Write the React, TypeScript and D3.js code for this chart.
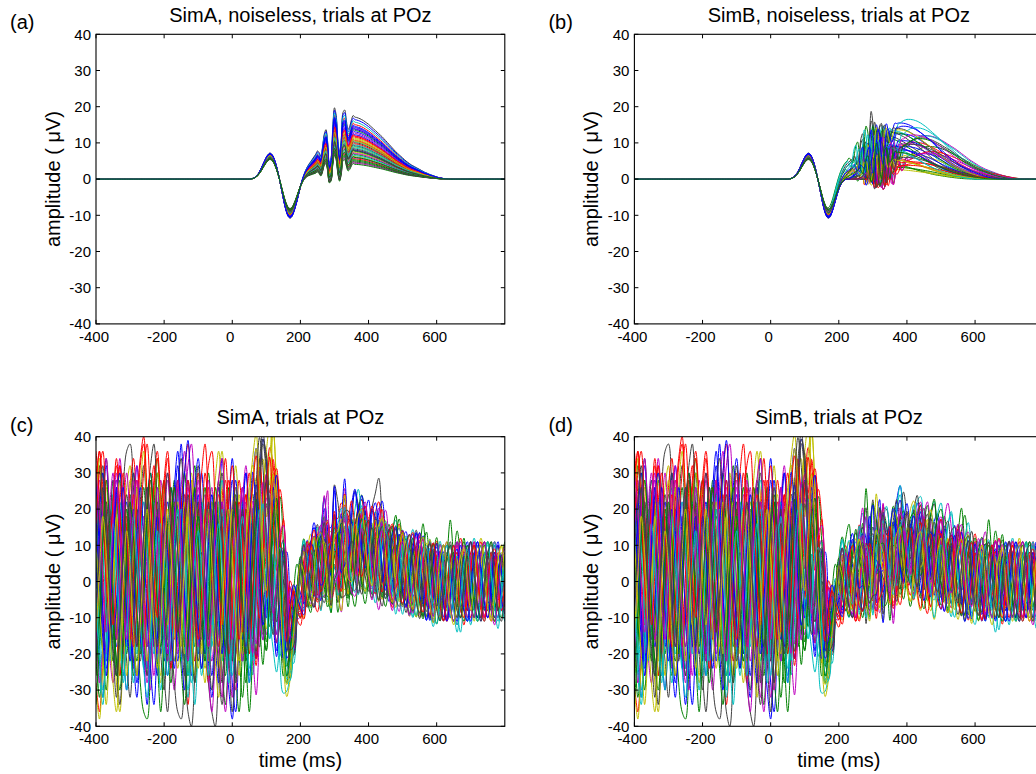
import React, { useEffect } from 'react';
import * as d3 from 'd3';

// ---------------- data ----------------
const timeStart = -400;
const timeEnd = 800;
const sampleStep = 5; // ms

const xTicks = [-400, -200, 0, 200, 400, 600];
const yTicks = [-40, -30, -20, -10, 0, 10, 20, 30, 40];

const panelTitles = [
  'SimA, noiseless, trials at POz',
  'SimB, noiseless, trials at POz',
  'SimA, trials at POz',
  'SimB, trials at POz',
];
const panelLetters = ['(a)', '(b)', '(c)', '(d)'];
const yAxisLabel = 'amplitude ( \u03bcV)';
const xAxisLabel = 'time (ms)';

// early P1/N1 complex (uV), 5 ms steps starting at 50 ms
const earlyWaveStart = 50;
const earlyWave = [
  0, 0.05, 0.2, 0.4, 0.8, 1.3, 2.1, 3.0, 4.1, 5.1,
  6.1, 6.8, 7.2, 7.0, 6.3, 5.1, 3.5, 1.5, -0.7, -3.1,
  -5.5, -7.7, -9.4, -10.5, -10.8, -10.4, -9.3, -7.8, -6.1, -4.4,
  -2.9, -1.7, -0.9, -0.4, -0.1, 0,
];

// late broad component (normalised), 5 ms steps starting at 190 ms
const p3WaveStart = 190;
const p3Wave = [
  0, 0.02, 0.05, 0.08, 0.12, 0.16, 0.2, 0.24, 0.28, 0.32,
  0.36, 0.4, 0.43, 0.47, 0.5, 0.54, 0.57, 0.6, 0.64, 0.67,
  0.71, 0.74, 0.78, 0.81, 0.85, 0.88, 0.91, 0.94, 0.96, 0.98,
  0.99, 1.0, 1.0, 1.0, 0.995, 0.99, 0.98, 0.97, 0.955, 0.94,
  0.92, 0.9, 0.88, 0.855, 0.83, 0.805, 0.78, 0.755, 0.73, 0.705,
  0.68, 0.65, 0.62, 0.59, 0.56, 0.53, 0.5, 0.47, 0.44, 0.415,
  0.39, 0.365, 0.34, 0.315, 0.29, 0.27, 0.25, 0.23, 0.215, 0.2,
  0.185, 0.17, 0.155, 0.14, 0.125, 0.11, 0.1, 0.087, 0.075, 0.065,
  0.055, 0.045, 0.035, 0.027, 0.02, 0.014, 0.01, 0.006, 0.004, 0.002,
  0,
];

// oscillatory burst (normalised), 5 ms steps starting at 245 ms
const burstWaveStart = 245;
const burstWave = [
  0, 0.05, -0.1, -0.3, -0.05, 0.35, 0.45, -0.1, -0.95, -0.85,
  0.2, 0.85, 0.5, -0.5, -1.05, -0.6, 0.3, 0.35, -0.1, -0.45,
  -0.35, -0.1, 0.05, 0,
];

// SimA trial parameters
const simAP3Amp = [
  12.3, 6.8, 15.1, 9.5, 4.4, 11.0, 17.2, 8.0, 13.5, 5.6,
  10.4, 14.0, 7.4, 9.2, 16.5, 4.1, 11.6, 8.6, 12.7, 6.2,
  10.1, 13.1, 5.0, 9.8, 15.8, 7.1, 11.3, 8.3, 14.6, 5.3,
  10.7, 6.5, 12.0, 8.9, 4.7, 13.8, 7.7, 11.9, 9.0, 5.9,
  10.5, 7.9, 14.3, 6.0,
];
const simABurstAmp = [
  6.1, 4.7, 6.8, 5.4, 4.0, 5.8, 7.4, 5.0, 6.4, 4.4,
  5.6, 6.5, 4.9, 5.3, 7.2, 4.0, 5.9, 5.2, 6.2, 4.6,
  5.5, 6.3, 4.3, 5.5, 7.0, 4.8, 5.8, 5.1, 6.7, 4.3,
  5.7, 4.6, 6.0, 5.2, 4.2, 6.5, 4.9, 6.0, 5.3, 4.5,
  5.7, 5.0, 6.6, 4.5,
];
const simAEarlyScale = [
  0.92, 0.85, 0.97, 0.88, 0.8, 0.95, 1.0, 0.83, 0.9, 0.78,
  0.93, 0.87, 0.96, 0.82, 0.99, 0.75, 0.91, 0.86, 0.94, 0.8,
  0.89, 0.98, 0.77, 0.9, 0.95, 0.84, 0.92, 0.81, 0.97, 0.79,
  0.88, 0.85, 0.93, 0.83, 0.76, 0.96, 0.87, 0.91, 0.86, 0.82,
  0.9, 0.84, 0.95, 0.8,
];

// SimB trial parameters (latency jitter in ms)
const simBP3Amp = [
  15.5, 9.0, 6.2, 16.5, 12.0, 3.5, 12.0, 12.5, 5.0, 10.2,
  13.4, 7.0, 2.6, 14.0, 9.0, 11.8, 4.4, 12.0, 8.6, 6.8,
  13.0, 10.6, 3.2, 7.6, 14.2, 9.8, 5.6, 11.4, 8.0, 12.8,
  4.8, 10.0, 7.2, 13.6, 6.0, 9.2, 11.2, 3.8, 8.8, 12.2,
  5.2, 9.6, 14.6, 7.4,
];
const simBP3Shift = [
  30, 115, -10, 55, 105, 0, -15, 35, -40, 70,
  5, 95, 15, 20, 45, -25, 80, 100, 10, 65,
  -5, 40, 25, 120, 75, 50, -5, 90, 35, 15,
  60, -30, 110, 25, 45, 0, 85, 55, -20, 70,
  10, 65, 40, 20,
];
const simBBurstAmp = [
  6.0, 4.5, 6.0, 5.5, 5.0, 4.0, 10.0, 6.5, 4.5, 6.0,
  6.0, 4.5, 3.5, 7.5, 6.0, 6.0, 4.0, 5.0, 7.0, 5.0,
  7.0, 7.0, 3.5, 4.0, 5.5, 7.5, 5.0, 5.5, 6.0, 7.0,
  4.5, 6.5, 4.5, 6.0, 6.0, 8.0, 5.5, 4.0, 6.0, 6.5,
  4.5, 6.5, 6.0, 5.5,
];
const simBBurstShift = [
  10, 45, -10, 20, 40, 0, -5, 15, -30, 30,
  0, 40, 10, 5, 25, -20, 30, 40, 5, 25,
  -5, 20, 15, 45, 30, 20, -10, 35, 15, 0,
  25, -25, 45, 10, 20, -5, 35, 20, -15, 30,
  5, 25, 15, 10,
];
const simBEarlyScale = [
  0.92, 0.85, 0.97, 0.88, 0.8, 0.95, 1.0, 0.83, 0.9, 0.78,
  0.93, 0.87, 0.96, 0.82, 0.99, 0.75, 0.91, 0.86, 0.94, 0.8,
  0.89, 0.98, 0.77, 0.9, 0.95, 0.84, 0.92, 0.81, 0.97, 0.79,
  0.88, 0.85, 0.93, 0.83, 0.76, 0.96, 0.87, 0.91, 0.86, 0.82,
  0.9, 0.85, 0.94, 0.8,
];

// ongoing EEG noise per trial (uV), 10 ms steps from -400 to 800 ms
const noiseTrials: number[][] = [
  [30, 12, -12, -22, 0, 24, 28, 6, -18, -30, -12, 14, 32, 20, -4, -24, -14, 10, 30, 22, -2, -26, -18, 6, 22, 38, 16, -14, -26, -6, 18, 30, 12, -12, -26, -12, 12, 34, 20, -6, -28, -36, -14, 14, 30, 18, -8, -22, 0, 22, 28, 10, -16, -24, -6, 14, 8, -10, -8, 2, -6, 3, 9, 1, -8, -3, 6, 11, 3, -6, -11, -3, 6, 9, 0, -8, -3, 7, 11, 2, -7, -10, 0, 8, 4, -6, -11, -3, 7, 10, 2, -8, -6, 4, 11, 3, -7, -12, -4, 6, 9, 0, -10, -4, 6, 10, 2, -8, -6, 3, 11, 4, -7, -11, -2, 7, 4, -6, -10, 0, 7],
  [-16, -32, -22, 2, 20, 10, -8, -26, -14, 8, 24, 14, -10, -28, -36, -38, -24, -4, 14, 6, -14, -6, 16, 28, 8, -10, -22, -4, 18, 32, 14, -8, -20, 0, 22, 16, -6, -24, -34, -16, 6, 22, 10, -8, -20, -2, 16, 24, 6, -16, -24, -8, 14, 18, 0, -16, -20, -8, 5, 10, 3, -6, -8, 3, 10, 4, -4, -10, -1, 8, 7, -3, -8, -1, 6, 11, 4, -6, -8, 0, 8, 6, -4, -10, -3, 7, 12, 3, -7, -4, 4, 10, 1, -8, -11, -1, 8, 13, 4, -6, -12, -6, 4, 8, 0, -7, -3, 6, 12, 3, -6, -10, -1, 7, 3, -4, -8, 1, 10, 4, -3],
  [22, 36, 26, 4, -14, -4, 16, 32, 20, -2, -16, -6, 12, 32, 38, 20, -4, -18, -8, 10, 28, 36, 22, 0, -12, 6, 24, 14, -8, -22, -10, 12, 30, 20, -2, -14, 4, 22, 34, 18, -4, -20, -8, 12, 24, 10, -10, -24, -12, 8, 20, 30, 26, 10, -8, 14, 2, -14, -10, 0, 7, 1, -7, -11, -3, 6, 10, 3, -6, -8, 0, 8, 12, 4, -6, -11, -4, 6, 8, 1, -7, -3, 7, 11, 3, -8, -12, -3, 6, 10, 3, -6, -10, -1, 7, 11, 4, -4, -11, -6, 4, 10, 6, -3, -8, -4, 6, 12, 7, -4, -10, -3, 7, 11, 1, -7, -11, -3, 8, 6, -4],
  [4, -16, -30, -16, 8, 24, 14, -4, -20, -8, 12, 26, 10, -10, -24, -12, 8, 22, 34, 18, -2, -16, -4, 16, 24, 6, -16, -30, -14, 8, 22, 10, -8, -22, -6, 16, 26, 12, -10, -24, -16, 6, 18, 8, -14, -26, -10, 10, 24, 8, -6, -16, 2, -10, -22, -26, -22, -14, -6, 2, 8, 3, -6, -10, -1, 7, 12, 16, 5, -4, -8, 0, 7, 3, -6, -10, -3, 6, 11, 4, -4, -8, -1, 6, 8, 1, -7, -11, -3, 7, 11, 3, -6, -12, -7, 3, 8, 1, -8, -13, -6, 4, 10, 3, -7, -11, -1, 8, 4, -6, -12, -4, 6, 10, 1, -7, -10, 0, 7, 3, -8],
  [12, 28, 18, -2, -20, -28, -10, 12, 26, 10, -8, -24, -14, 8, 18, 2, -16, -6, 12, 28, 18, -4, -20, -30, -14, 8, 16, 0, -18, -28, -8, 16, 24, 8, -12, -4, 10, 20, 6, -16, -32, -18, 2, 22, 32, 16, -8, -22, -10, 6, 16, 4, -16, -10, 8, 16, 2, -8, -2, 4, -3, -8, -1, 7, 11, 4, -4, -8, 3, 13, 8, -3, -10, -4, 6, 8, 0, -7, -4, 4, 10, 3, -6, -11, -4, 6, 10, 3, -7, -10, -1, 7, 12, 6, -4, -10, -3, 6, 8, 0, -8, -4, 6, 11, 3, -7, -12, -6, 4, 8, 1, -7, -3, 6, 11, 4, -6, -11, -4, 7, 4],
  [-26, -8, 16, 28, 12, -10, -24, -10, 12, 26, 32, 12, -8, -18, -2, 18, 28, 10, -12, -28, -18, 2, 20, 12, -8, -20, -8, 16, 30, 18, -2, -18, -28, -10, 12, 28, 36, 22, 2, -12, -6, 16, 24, 8, -10, -20, -6, 18, 28, 30, 12, 28, 36, 22, 2, -12, -10, 2, 8, -2, -8, -3, 6, 10, 1, -7, -11, -3, 7, 11, 3, -6, -8, 1, 8, 4, -4, -10, -3, 6, 8, 0, -7, -4, 4, 10, 3, -6, -12, -6, 3, 8, 1, -7, -4, 6, 11, 3, -7, -11, -3, 6, 10, 1, -6, -8, 0, 7, 4, -4, -8, -1, 7, 12, 6, -4, -10, -3, 6, 8, 0],
  [-10, 8, 24, 34, 18, -2, -16, 6, 26, 36, 38, 26, 4, -12, -22, -8, 12, 26, 12, -8, -26, -36, -20, 2, 18, 10, -10, -22, -8, 12, 22, 8, -12, -26, -14, 6, 20, 30, 14, -6, -20, -10, 10, 26, 16, -6, -18, -6, 18, 34, 24, 6, -14, -8, 12, 2, -12, -16, -8, 3, 6, -3, -10, -4, 4, 8, 1, -7, -11, -3, 7, 11, 4, -4, -8, 0, 8, 4, -6, -10, -3, 6, 11, 16, 6, -6, -10, -1, 7, 4, -4, -8, 0, 7, 11, 3, -6, -10, -1, 8, 6, -4, -11, -6, 3, 8, 3, -6, -8, 1, 7, 3, -6, -10, 0, 8, 11, 3, -7, -6, 3],
  [-6, -22, -32, -16, 8, 20, 6, -14, -26, -8, 16, 30, 18, -4, -20, -10, 8, 24, 14, -8, -22, -12, 10, 26, 36, 20, -2, -18, -8, 12, 24, 12, -8, -22, -32, -16, 8, 22, 10, -10, -20, -4, 14, 8, -12, -28, -10, 12, 28, 36, 28, 8, -12, -22, -8, 10, 16, 3, -10, -6, 4, 8, 1, -7, -10, 0, 8, 6, -4, -8, -1, 7, 11, 3, -6, -11, -4, 6, 10, 1, -6, -8, 0, 8, 6, -3, -10, -6, 4, 10, 4, -4, -8, -1, 7, 11, 3, -6, -10, -3, 6, 8, 0, -7, -3, 7, 11, 3, -7, -11, -4, 4, 10, 3, -6, -8, 1, 7, 3, -6, -1],
  [18, 32, 20, 0, -12, -2, 18, 28, 12, -8, -18, 0, 20, 10, -10, -26, -16, 6, 22, 12, -6, -20, -28, -10, 10, 22, 30, 12, -8, -18, -2, 16, 26, 10, -8, -18, -6, 12, 20, 6, -12, -26, -36, -18, 6, 18, 8, -12, -20, -2, 16, 8, -10, -20, -6, 12, 5, -8, -12, -2, 7, 11, 4, -4, -8, -1, 6, 8, 0, -8, -6, 4, 10, 3, -6, -10, -3, 7, 11, 4, -4, -10, -4, 4, 8, 1, -7, -4, 6, 12, 6, -4, -8, 0, 7, 4, -6, -11, -4, 6, 10, 4, -4, -10, -3, 6, 14, 7, -3, -8, -3, 6, 8, 0, -8, -4, 4, 10, 3, -7, -4],
  [-28, -36, -22, -2, 12, 6, -12, -26, -10, 10, 26, 34, 18, -4, -16, 2, 22, 32, 16, -4, -18, -6, 12, 26, 10, -10, -22, -34, -18, 2, 16, 6, -14, -28, -12, 10, 26, 16, -4, -20, -8, 12, 28, 18, -2, -16, -4, 16, 30, 20, 2, -12, -4, 18, 26, 22, 10, -4, -12, -5, -3, 6, 10, 3, -7, -11, -3, 7, 4, -6, -10, -1, 8, 11, 3, -7, -8, 1, 10, 6, -3, -8, -3, 6, 11, 4, -6, -10, -1, 7, 4, -6, -11, -3, 6, 10, 1, -7, -4, 6, 11, 3, -6, -8, 0, 7, 3, -7, -12, -4, 4, 8, 1, -6, -10, -3, 6, 11, 4, -4, -7],
  [8, -10, -24, -8, 12, 28, 18, -2, -18, -30, -14, 8, 18, 6, -12, -24, -6, 16, 26, 10, -10, -18, 0, 18, 28, 12, -8, -20, -28, -10, 10, 22, 12, -6, -18, -2, 18, 28, 18, -2, -16, -6, 12, 22, 8, -12, -26, -16, 6, 18, 8, -10, -20, -8, 10, 16, 5, -10, -14, -5, 6, 11, 3, -6, -8, 1, 8, 4, -6, -11, -4, 6, 10, 3, -7, -11, -3, 7, 11, 3, -7, -12, -6, 4, 10, 3, -6, -8, 1, 8, 4, -6, -12, -6, 3, 8, 3, -7, -10, 0, 8, 6, -4, -11, -6, 4, 8, 1, -7, -3, 7, 12, 6, -4, -11, -6, 3, 10, 3, -6, -11],
  [20, 6, -12, -26, -16, 6, 20, 34, 22, 2, -12, -22, -8, 12, 22, 8, -12, -26, -12, 8, 20, 30, 12, -8, -20, -8, 16, 32, 38, 22, 0, -16, -6, 16, 26, 8, -12, -26, -36, -20, 2, 18, 8, -10, -20, -6, 12, 22, 8, -10, -20, -8, 10, 20, 5, -10, -3, 8, 3, -5, -8, 0, 7, 4, -4, -10, -3, 6, 8, 0, -7, -4, 4, 10, 3, -6, -11, -4, 6, 8, 1, -7, -10, -1, 7, 11, 4, -4, -8, 0, 8, 4, -6, -11, -4, 6, 10, 1, -7, -8, 1, 10, 6, -4, -10, -3, 7, 11, 3, -6, -8, 0, 8, 4, -4, -10, -3, 6, 10, 1, -6],
  [-18, -2, 16, 26, 10, -10, -28, -36, -20, 2, 18, 28, 12, -8, -20, -10, 10, 22, 34, 18, -2, -16, -6, 12, 22, 8, -12, -26, -10, 10, 20, 6, -12, -22, -8, 12, 28, 36, 20, -2, -18, -30, -12, 8, 20, 10, -10, -20, -2, 18, 30, 36, 20, 2, -10, 2, -5, -12, -8, 0, 4, -4, -8, 0, 7, 11, 3, -6, -10, -1, 7, 4, -6, -11, -3, 6, 10, 1, -7, -4, 4, 10, 3, -6, -10, -1, 8, 6, -4, -8, 0, 7, 11, 4, -6, -11, -4, 4, 8, 1, -7, -11, -3, 6, 10, 3, -6, -8, 1, 8, 4, -6, -11, -4, 6, 11, 3, -7, -8, 1, 8],
  [28, 12, -8, -20, -4, 16, 26, 10, -10, -22, -32, -16, 6, 22, 32, 16, -6, -18, -2, 18, 26, 8, -12, -28, -36, -38, -22, 0, 16, 6, -12, -24, -10, 10, 20, 6, -14, -28, -12, 8, 18, 6, -12, -22, -8, 12, 24, 12, -8, -18, -4, 12, 20, 6, -10, -18, -8, 2, 5, -3, -7, 1, 8, 4, -4, -8, 0, 7, 10, 1, -7, -11, -3, 6, 8, 0, -8, -6, 4, 11, 4, -6, -10, -3, 6, 10, 1, -7, -4, 6, 11, 3, -6, -10, -1, 7, 4, -6, -11, -3, 6, 8, 0, -7, -4, 4, 11, 4, -4, -10, -3, 7, 10, 1, -6, -8, 1, 8, 3, -7, -3],
  [-12, 6, 22, 32, 16, -6, -18, -8, 12, 22, 8, -12, -28, -18, 2, 20, 30, 16, -6, -20, -10, 10, 26, 16, -8, -20, -30, -12, 8, 26, 34, 20, 0, -12, -2, 18, 26, 8, -16, -30, -38, -20, 2, 20, 30, 12, -10, -22, -10, 10, 22, 12, -8, -18, -2, 14, 7, -8, -10, -2, 3, 8, 3, -6, -10, -1, 7, 11, 4, -4, -10, -3, 6, 10, 1, -7, -8, 0, 8, 4, -4, -10, -3, 7, 11, 3, -6, -11, -4, 6, 8, 0, -7, -4, 6, 11, 3, -7, -12, -6, 3, 8, 3, -6, -10, -1, 7, 4, -4, -8, 0, 7, 11, 3, -7, -10, -1, 6, 10, 3, -4],
  [6, 22, 30, 12, -8, -22, -12, 8, 18, 2, -16, -26, -8, 12, 26, 12, -6, -16, 2, 20, 28, 10, -10, -22, -12, 8, 20, 8, -12, -28, -18, 2, 18, 30, 16, -6, -18, -8, 10, 26, 12, -8, -20, -32, -16, 6, 18, 6, -12, -26, -10, 8, 18, 5, -12, -22, -12, -2, 2, -3, -8, -1, 7, 10, 1, -7, -4, 6, 11, 3, -6, -10, -1, 8, 4, -6, -11, -3, 7, 10, 1, -7, -6, 4, 10, 3, -6, -8, 1, 11, 6, -4, -10, -1, 7, 4, -6, -10, -1, 7, 12, 4, -6, -10, 0, 7, 3, -7, -11, -3, 6, 10, 1, -7, -4, 6, 11, 3, -7, -10, 0],
  [36, 24, 4, -10, 2, 22, 32, 18, -2, -14, -4, 16, 28, 18, -2, -12, 6, 26, 34, 20, 0, -14, -24, -10, 10, 22, 12, -8, -18, -2, 18, 30, 38, 22, 2, -12, -2, 18, 28, 12, -8, -18, -4, 14, 24, 10, -10, -22, -10, 10, 24, 18, 28, 20, 5, -8, 0, 10, 5, -3, -6, 3, 8, 1, -7, -11, -3, 7, 10, 0, -7, -3, 6, 11, 4, -6, -10, -1, 8, 4, -4, -8, 0, 8, 12, 4, -6, -11, -3, 6, 10, 3, -7, -10, 0, 7, 4, -4, -8, 1, 10, 6, -4, -11, -4, 6, 8, 0, -8, -6, 4, 11, 4, -6, -10, -1, 7, 4, -6, -8, 1],
  [-8, -26, -34, -18, 2, 16, 2, -16, -28, -10, 10, 20, 6, -12, -22, -8, 12, 22, 8, -12, -26, -12, 8, 20, 8, -10, -22, -32, -16, 4, 18, 8, -10, -20, -4, 16, 22, 8, -12, -22, -8, 12, 20, 6, -16, -28, -18, 2, 16, 6, -12, -22, -10, 5, 12, -3, -14, -16, -8, 0, 6, -3, -8, -1, 7, 11, 4, -4, -10, -3, 6, 10, 3, -6, -8, 0, 8, 6, -3, -10, -6, 4, 10, 3, -7, -10, -1, 7, 4, -6, -12, -4, 6, 10, 1, -7, -4, 6, 11, 3, -6, -10, -1, 7, 3, -7, -12, -6, 4, 10, 3, -6, -10, -3, 7, 11, 3, -6, -11, -4, 6],
  [26, 10, -10, -20, -4, 18, 30, 16, -6, -16, 2, 22, 32, 16, -6, -20, -30, -12, 8, 18, 6, -12, -22, -8, 12, 26, 36, 20, 0, -12, -2, 16, 8, -10, -22, -10, 10, 22, 10, -8, -20, -30, -12, 10, 22, 12, -6, -18, -2, 18, 24, 10, -8, -18, -5, 12, 10, -5, -10, -2, 4, 8, 0, -7, -4, 6, 11, 4, -4, -8, 0, 7, 11, 3, -7, -11, -3, 6, 8, 0, -7, -4, 6, 11, 3, -6, -10, -1, 7, 4, -6, -11, -3, 7, 10, 1, -7, -6, 4, 10, 3, -6, -11, -4, 6, 10, 1, -7, -4, 6, 11, 4, -4, -10, -3, 6, 8, 0, -7, -3, 4],
  [-30, -38, -22, 0, 16, 8, -10, -22, -8, 12, 28, 16, -6, -18, -6, 16, 26, 8, -12, -26, -12, 8, 22, 12, -8, -18, -2, 18, 28, 10, -8, -20, -10, 10, 22, 10, -10, -22, -12, 6, 20, 32, 18, -2, -18, -8, 12, 28, 18, -6, -18, -6, 12, 24, 15, 0, -10, -12, -5, 2, -4, -10, -3, 6, 10, 3, -6, -8, 1, 8, 4, -6, -11, -4, 6, 10, 3, -6, -8, 0, 8, 6, -4, -10, -3, 7, 11, 4, -4, -8, -1, 7, 4, -6, -11, -3, 6, 10, 1, -6, -8, 0, 7, 11, 4, -6, -10, -3, 6, 8, 0, -7, -4, 4, 10, 3, -6, -11, -4, 6, 10],
  [16, -2, -18, -8, 12, 28, 16, -6, -18, -2, 18, 30, 16, -2, -16, -26, -10, 10, 20, 6, -12, -22, -8, 12, 26, 34, 18, -2, -12, 2, 20, 8, -12, -28, -36, -40, -24, -6, 10, 0, -16, -28, -12, 8, 20, 8, -12, -20, -6, 16, 22, 8, -10, -20, -10, 5, 3, -10, -12, -5, 3, 8, 1, -7, -10, -1, 7, 4, -4, -8, 1, 8, 6, -4, -11, -4, 4, 10, 3, -6, -8, 1, 10, 6, -4, -10, -3, 6, 11, 4, -4, -8, 0, 7, 3, -6, -11, -4, 6, 8, 0, -7, -4, 6, 11, 3, -6, -10, -1, 7, 4, -6, -10, -1, 8, 6, -4, -8, 0, 7, -1],
  [-2, 18, 30, 18, -2, -16, -6, 16, 26, 10, -10, -22, -32, -16, 6, 18, 6, -16, -26, -10, 10, 22, 10, -10, -22, -8, 16, 28, 16, -4, -20, -10, 10, 20, 6, -16, -28, -12, 8, 22, 34, 18, -6, -20, -8, 12, 28, 36, 20, 0, -14, -4, 14, 26, 12, -5, -12, -8, 0, 5, -3, -8, 0, 7, 4, -4, -10, -3, 7, 11, 3, -6, -10, -1, 7, 4, -4, -10, -3, 6, 11, 3, -6, -8, 0, 7, 4, -6, -11, -3, 7, 10, 1, -7, -4, 4, 11, 4, -6, -12, -4, 6, 8, 0, -8, -6, 4, 10, 3, -6, -11, -3, 7, 10, 1, -6, -4, 6, 11, 3, -6],
  [10, -8, -20, -30, -12, 8, 22, 10, -8, -20, -6, 16, 26, 10, -10, -18, 2, 20, 30, 12, -6, -18, -8, 10, 20, 6, -16, -26, -12, 8, 18, 2, -16, -8, 12, 22, 10, -10, -20, -6, 16, 22, 8, -10, -22, -36, -20, 0, 16, 8, -10, -18, -2, 16, 24, 15, -2, -10, -5, 2, 7, 1, -6, -10, -1, 7, 10, 1, -7, -4, 4, 10, 3, -6, -10, -1, 8, 6, -4, -8, 0, 7, 11, 3, -6, -10, -3, 6, 8, 0, -8, -6, 4, 11, 4, -4, -10, -1, 7, 4, -4, -11, -4, 6, 10, 1, -7, -4, 4, 10, 4, -4, -10, -3, 6, 11, 4, -6, -8, 0, 6],
  [32, 18, -2, -12, 6, 22, 34, 20, 0, -10, 8, 24, 14, -6, -18, -6, 14, 28, 36, 22, 2, -10, 0, 18, 28, 12, -8, -18, -2, 18, 30, 14, -6, -18, -6, 14, 24, 12, -8, -20, -8, 12, 22, 10, -10, -20, -2, 18, 32, 18, -2, 14, 24, 26, 10, -5, 2, 8, 0, -5, -10, -3, 6, 8, 0, -7, -11, -3, 7, 4, -4, -8, 0, 8, 11, 3, -6, -8, 1, 8, 4, -6, -11, -3, 6, 10, 1, -7, -6, 4, 10, 3, -6, -8, 1, 10, 6, -4, -10, -1, 6, 4, -6, -11, -3, 6, 10, 1, -6, -8, 1, 8, 4, -4, -10, -3, 6, 8, 0, -7, -3],
  [-20, -6, 12, 22, 8, -12, -26, -12, 8, 20, 10, -8, -20, -8, 12, 26, 12, -6, -18, -30, -16, 6, 18, 8, -10, -22, -10, 10, 20, 8, -12, -26, -16, 2, 16, 6, -12, -22, -8, 10, 20, 8, -10, -22, -12, 8, 20, 10, -10, -20, -6, 16, 6, -12, -20, -10, -18, -15, -8, -3, 4, 10, 3, -6, -8, 1, 8, 4, -4, -11, -4, 6, 10, 1, -7, -4, 4, 10, 3, -6, -10, -1, 7, 4, -6, -11, -4, 6, 10, 1, -7, -4, 6, 11, 3, -6, -8, 0, 8, 4, -6, -11, -3, 7, 10, 1, -8, -14, -4, 6, 8, 0, -7, -4, 6, 11, 3, -7, -10, -1, 7],
  [-10, -28, -18, 2, 20, 30, 12, -8, -20, -8, 12, 28, 18, -2, -18, -28, -12, 8, 20, 8, -12, -22, -8, 16, 28, 16, -6, -18, -6, 16, 26, 10, -10, -26, -36, -20, 2, 18, 8, -12, -22, -8, 12, 26, 12, -8, -20, -32, -16, 6, 18, 8, -12, -20, -5, 10, 0, -10, -8, 0, 8, 3, -6, -8, 0, 8, 12, 18, 5, -4, -8, 0, 7, 4, -4, -10, -3, 6, 11, 4, -4, -8, -1, 7, 11, 3, -6, -10, -1, 7, 4, -6, -11, -4, 6, 10, 3, -6, -8, 1, 8, 4, -6, -10, -1, 7, 11, 4, -4, -10, -3, 6, 10, 1, -7, -4, 4, 11, 4, -6, -8],
  [18, 34, 22, 2, -12, -2, 18, 30, 16, -6, -18, -8, 12, 26, 36, 20, 0, -12, -2, 16, 26, 10, -10, -22, -10, 10, 22, 8, -12, -26, -12, 8, 20, 10, -10, -22, -32, -16, 6, 18, 6, -12, -26, -10, 12, 26, 32, 16, -4, 16, 30, 20, 36, 24, 8, -8, -3, -12, -8, 0, -6, 1, 8, 4, -4, -10, -3, 6, 10, 1, -7, -4, 6, 11, 3, -6, -10, 0, 7, 3, -6, -10, -3, 7, 10, 1, -7, -4, 6, 11, 3, -6, -10, -1, 8, 6, -4, -11, -4, 4, 10, 3, -6, -8, 0, 8, 6, -4, -10, -3, 6, 10, 1, -7, -10, -1, 7, 3, -6, -8, 3],
  [-22, -10, 10, 22, 10, -10, -22, -34, -18, 2, 16, 6, -12, -22, -6, 16, 28, 16, -6, -20, -30, -12, 8, 20, 8, -10, -22, -36, -40, -26, -8, 8, 0, -18, -30, -16, 6, 18, 8, -10, -22, -10, 8, 20, 8, -10, -16, 4, 24, 36, 30, 14, -6, -14, -2, 10, -3, -12, -10, -3, 6, 10, 1, -7, -10, 0, 7, 4, -4, -8, 1, 8, 6, -4, -10, -3, 7, 11, 4, -6, -10, -1, 7, 4, -4, -10, -3, 7, 11, 3, -6, -11, -3, 6, 8, 0, -8, -6, 4, 10, 3, -6, -11, -4, 6, 8, 1, -7, -4, 6, 11, 4, -6, -11, -3, 6, 8, 0, -8, -4, 4],
  [20, 2, -16, -26, -8, 12, 26, 12, -8, -18, 0, 20, 10, -10, -22, -34, -18, 2, 18, 8, -10, -20, -2, 20, 32, 16, -4, -16, 2, 22, 12, -8, -20, -8, 12, 22, 10, -10, -20, -2, 18, 28, 12, -8, -18, -2, 18, 26, 10, -8, -16, 2, 18, 26, 12, -3, -10, -5, 2, 5, -1, -7, -3, 6, 11, 4, -4, -10, -3, 6, 8, 0, -7, -11, -3, 7, 11, 4, -4, -8, 0, 8, 6, -4, -10, -3, 6, 8, 0, -8, -12, -4, 6, 10, 3, -6, -8, 1, 10, 6, -4, -10, -1, 7, 4, -6, -11, -3, 7, 11, 3, -6, -10, 0, 8, 4, -4, -10, -3, 6, 8],
  [-34, -18, 2, 16, 6, -12, -26, -12, 8, 20, 8, -12, -22, -10, 10, 20, 8, -10, -22, -36, -20, 0, 16, 26, 10, -8, -18, -4, 16, 26, 10, -10, -22, -12, 8, 18, 6, -16, -26, -8, 12, 22, 8, -12, -28, -16, 6, 16, 2, -16, -24, -10, 8, 16, 3, -12, -16, -10, -2, 2, 7, 0, -6, -4, 4, 10, 3, -6, -10, -1, 7, 11, 3, -6, -8, 1, 8, 4, -6, -11, -4, 6, 8, 0, -8, -4, 6, 11, 16, 4, -6, -8, 0, 7, 3, -7, -11, -3, 7, 10, 1, -7, -4, 6, 17, 6, -4, -10, -1, 7, 3, -6, -11, -4, 6, 8, 0, -7, -3, 6, 11],
  [28, 36, 20, 0, -10, 6, 22, 32, 16, -6, -16, 2, 22, 34, 40, 24, 6, -10, 0, 18, 28, 12, -6, -16, 0, 20, 30, 38, 24, 4, -10, -2, 16, 26, 10, -8, -18, -2, 18, 28, 12, -6, -16, 0, 20, 30, 16, -2, -12, 2, 20, 28, 12, 0, 10, 22, 12, 2, -5, -3, -8, 0, 8, 4, -4, -10, -3, 6, 10, 1, -6, -8, 1, 8, 4, -4, -10, -3, 7, 11, 3, -6, -8, 0, 7, 3, -7, -11, -3, 6, 10, 1, -7, -4, 6, 11, 4, -4, -8, 0, 7, 3, -6, -11, -4, 6, 8, 0, -8, -4, 4, 10, 3, -6, -10, -1, 8, 6, -4, -8, 0],
  [6, 20, 10, -10, -22, -10, 10, 22, 12, -6, -18, -28, -10, 10, 22, 10, -10, -20, -6, 16, 6, -12, -22, -10, 8, 20, 8, -10, -22, -34, -18, 2, 16, 6, -12, -6, 12, 20, 6, -12, -26, -12, 8, 18, 6, -12, -22, -8, 10, 18, 2, -16, -24, -28, -16, -5, -18, -12, -3, 4, -3, -8, 0, 7, 4, -4, -10, -3, 6, 10, 1, -7, -4, 6, 11, 4, -4, -10, -1, 7, 4, -6, -11, -4, 6, 10, 1, -7, -8, 0, 8, 4, -6, -11, -3, 7, 10, 1, -7, -6, 4, 11, 4, -6, -10, -1, 7, 4, -6, -11, -3, 7, 10, 1, -7, -4, 6, 11, 3, -7, -11],
  [-14, 2, 20, 34, 18, -2, -16, -2, 18, 30, 16, -4, -18, -8, 12, 26, 12, -8, -20, -8, 12, 28, 18, -2, -18, -8, 16, 26, 10, -8, -18, -6, 16, 28, 16, -6, -20, -32, -16, 6, 18, 8, -10, -22, -10, 10, 22, 12, -8, -20, -8, 12, 22, 10, -5, -12, 0, 8, 3, -3, -7, 1, 8, 4, -4, -10, -3, 7, 18, 8, -3, -8, 0, 7, 4, -4, -10, -3, 7, 11, 3, -6, -10, -1, 7, 4, -6, -11, -3, 7, 10, 1, -7, -4, 6, 11, 3, -6, -8, 1, 8, 4, -6, -11, -3, 6, 10, 1, -7, -4, 6, 11, 4, -4, -10, -3, 6, 8, 0, -8, -4],
  [12, -6, -20, -34, -18, 2, 18, 8, -10, -26, -12, 10, 26, 12, -8, -22, -10, 12, 30, 20, 0, -12, 2, 22, 12, -8, -20, -8, 12, 22, 8, -12, -24, -10, 10, 26, 18, -2, -16, 2, 20, 10, -10, -20, -8, 12, 26, 36, 20, 2, -10, 2, 20, 8, -8, -18, -24, -18, -10, -3, 3, 8, 1, -6, -10, -1, 7, 4, -4, -8, 1, 10, 6, -4, -10, -1, 7, 4, -6, -11, -3, 7, 10, 1, -7, -4, 6, 11, 3, -6, -10, 0, 7, 4, -4, -10, -3, 7, 11, 3, -6, -10, -1, 7, 4, -6, -8, 1, 10, 4, -4, -11, -4, 6, 8, 0, -7, -4, 6, 10, 1],
  [-8, 10, 26, 12, -8, -20, -32, -16, 6, 18, 8, -12, -26, -12, 8, 22, 32, 38, 20, 0, -16, -6, 12, 22, 8, -12, -26, -16, 6, 20, 32, 18, -2, -16, -2, 18, 28, 12, -8, -22, -36, -20, 2, 16, 6, -12, -6, 16, 32, 38, 26, 6, -12, -4, 12, 5, -8, -14, -8, 0, 6, -3, -8, 0, 7, 4, -4, -10, -3, 6, 11, 4, -6, -10, -1, 7, 4, -4, -8, 0, 7, 11, 3, -6, -10, -1, 8, 13, 5, -4, -8, 1, 8, 4, -6, -11, -4, 6, 10, 1, -7, -4, 6, 10, 3, -6, -10, -1, 7, 4, -4, -8, 0, 8, 11, 3, -6, -10, -1, 7, 3],
  [26, 14, -8, -24, -14, 8, 24, 30, 12, -8, -22, -10, 12, 26, 12, -10, -24, -34, -16, 4, 18, 8, -12, -24, -8, 14, 30, 39, 22, 2, -12, -24, -10, 10, 24, 12, -8, -20, -6, 14, 28, 16, -4, -16, -4, 16, 30, 20, -2, -16, -8, 10, 20, 8, -8, -16, -6, 4, 8, 2, -5, -10, -2, 6, 10, 3, -6, -10, -2, 7, 10, 3, -6, -11, -4, 5, 11, 4, -5, -9, -2, 7, 11, 4, -6, -11, -3, 6, 9, 0, -7, -11, -3, 6, 11, 4, -5, -12, -5, 4, 10, 3, -6, -11, -4, 6, 9, 0, -8, -11, -2, 7, 11, 3, -6, -10, -1, 8, 5, -5, -9],
  [-26, -10, 12, 28, 16, -6, -22, -30, -14, 8, 22, 12, -8, -20, -4, 18, 30, 14, -6, -18, -4, 16, 26, 10, -10, -24, -34, -18, 4, 18, 10, -10, -22, -8, 14, 26, 14, -6, -18, -4, 14, 24, 10, -8, -22, -12, 8, 22, 12, -8, -22, -10, 12, 20, 6, -10, -18, -10, -2, 3, 9, 3, -5, -9, -2, 6, 10, 3, -6, -10, -3, 6, 12, 5, -5, -11, -4, 6, 10, 1, -8, -11, -2, 7, 10, 2, -7, -10, -1, 8, 11, 3, -6, -10, -2, 7, 15, 5, -5, -10, -3, 6, 10, 2, -7, -11, -3, 6, 11, 4, -5, -10, -1, 8, 10, 1, -8, -11, -2, 7, 9],
  [16, 30, 36, 20, 2, -12, 2, 22, 30, 14, -6, -18, -6, 16, 30, 38, 22, 2, -10, 6, 24, 34, 18, -2, -14, -4, 16, 28, 14, -6, -16, -4, 18, 32, 36, 20, 0, -12, 4, 22, 32, 18, -2, -14, 0, 18, 26, 34, 20, 2, -10, 4, 22, 28, 14, -2, -8, 2, 6, 0, -6, -11, -3, 6, 10, 2, -7, -9, 0, 8, 5, -5, -10, -2, 7, 11, 3, -6, -10, -3, 6, 11, 4, -6, -11, -3, 7, 10, 1, -8, -10, -1, 8, 11, 2, -7, -10, -2, 7, 10, 2, -7, -11, -3, 6, 10, 1, -8, -10, 0, 8, 10, 1, -8, -11, -2, 7, 9, 0, -8, -6],
  [-4, -20, -32, -20, 2, 16, 6, -12, -26, -16, 4, 18, 8, -10, -24, -32, -16, 4, 14, 0, -16, -26, -10, 10, 20, 6, -14, -26, -12, 6, 14, 2, -14, -26, -14, 6, 16, 4, -14, -28, -16, 4, 16, 6, -12, -24, -12, 8, 18, 4, -12, -22, -12, 4, 10, -8, -20, -18, -10, -2, 5, 10, 2, -7, -10, -1, 7, 10, 2, -7, -11, -3, 6, 10, 1, -8, -12, -3, 7, 10, 2, -7, -10, -1, 8, 11, 3, -6, -13, -5, 4, 10, 2, -7, -11, -2, 7, 9, 0, -9, -12, -3, 6, 10, 1, -8, -14, -5, 5, 9, 0, -8, -11, -2, 7, 10, 2, -7, -13, -4, 5],
  [30, 20, 0, -14, -4, 16, 28, 14, -6, -16, -2, 18, 28, 12, -8, -18, -4, 16, 26, 10, -10, -20, -4, 16, 26, 10, -10, -22, -8, 14, 28, 16, -4, -18, -8, 14, 28, 34, 16, -4, -16, -4, 16, 26, 10, -10, -20, -6, 14, 24, 10, -6, -14, -2, 14, 20, 8, -6, -8, 0, 6, 10, 2, -6, -9, 0, 8, 12, 4, -5, -9, -1, 8, 10, 1, -8, -10, 0, 9, 6, -4, -10, -2, 7, 10, 2, -7, -11, -3, 6, 9, 1, -8, -10, 0, 8, 11, 3, -6, -10, -1, 8, 10, 1, -7, -11, -2, 7, 10, 2, -7, -10, -1, 8, 11, 2, -8, -12, -3, 6, 10],
  [-14, 2, 18, 8, -12, -28, -36, -20, 0, 14, 4, -14, -26, -12, 8, 20, 8, -12, -24, -12, 8, 20, 8, -12, -24, -14, 6, 18, 6, -14, -24, -10, 10, 20, 6, -14, -24, -10, 10, 20, 8, -10, -22, -10, 10, 22, 34, 40, 24, 4, -8, 8, 24, 12, -4, -14, -20, -14, -6, 0, 7, 2, -6, -10, -2, 7, 10, 1, -8, -10, -1, 8, 11, 2, -7, -10, -1, 8, 10, 1, -7, -10, -1, 8, 10, 1, -8, -11, -3, 6, 10, 2, -7, -10, -1, 8, 11, 2, -7, -12, -4, 6, 10, 1, -8, -12, -2, 7, 9, 0, -8, -1, 8, 10, 1, -7, -11, -3, 6, 10, 2],
  [8, 22, 32, 18, -2, -18, -26, -10, 10, 24, 14, -4, -18, -6, 14, 26, 14, -6, -18, -4, 16, 30, 20, 0, -14, -4, 14, 24, 10, -10, -22, -12, 8, 22, 12, -8, -24, -34, -20, -2, 16, 26, 14, -6, -20, -10, 10, 26, 38, 28, 6, -12, -20, -8, 8, 14, 2, -10, -10, -2, 6, 10, 2, -7, -10, -1, 8, 10, 1, -8, -10, -1, 8, 10, 14, 4, -7, -11, -2, 7, 10, 2, -7, -11, -3, 6, 10, 1, -8, -10, 0, 8, 11, 2, -7, -10, 0, 8, 10, 1, -8, -11, -2, 7, 10, 1, -8, -10, 0, 8, 11, 2, -7, -10, 0, 8, 10, 1, -8, -11, -2],
];

// MATLAB default colour order
const lineColors = ['#0000ff', '#008000', '#ff0000', '#00bfbf', '#bf00bf', '#bfbf00', '#404040'];

// ---------------- derived series ----------------
const timeGrid = d3.range(timeStart, timeEnd + sampleStep / 2, sampleStep);

function templateAt(wave: number[], start: number, t: number): number {
  const k = Math.round((t - start) / sampleStep);
  return k >= 0 && k < wave.length ? wave[k] : 0;
}

function buildTrial(early: number, p3Amp: number, p3Shift: number, bAmp: number, bShift: number): number[] {
  return timeGrid.map(
    (t) =>
      early * templateAt(earlyWave, earlyWaveStart, t) +
      p3Amp * templateAt(p3Wave, p3WaveStart, t - p3Shift) +
      bAmp * templateAt(burstWave, burstWaveStart, t - bShift)
  );
}

const simATrials = simAP3Amp.map((a, i) => buildTrial(simAEarlyScale[i], a, 0, simABurstAmp[i], 0));
const simBTrials = simBP3Amp.map((a, i) =>
  buildTrial(simBEarlyScale[i], a, simBP3Shift[i], simBBurstAmp[i], simBBurstShift[i])
);

type Pt = [number, number];
const cleanSeries = (trials: number[][]): Pt[][] => trials.map((tr) => tr.map((v, k) => [timeGrid[k], v] as Pt));

function noisySeries(clean: number[][]): Pt[][] {
  return noiseTrials.map((noise, i) => {
    const n = noise.length;
    const tr = clean[i % clean.length];
    return noise.map((v, k) => {
      const t = timeStart + (k * (timeEnd - timeStart)) / (n - 1);
      const gi = Math.round((Math.round(t / 10) * 10 - timeStart) / sampleStep);
      return [t, v + tr[Math.min(gi, tr.length - 1)]] as Pt;
    });
  });
}

const panelSeries: Pt[][][] = [
  cleanSeries(simATrials),
  cleanSeries(simBTrials),
  noisySeries(simATrials),
  noisySeries(simBTrials),
];

// ---------------- layout ----------------
const colLeft = [96, 634.4];
const rowTop = [34.3, 436.7];
const axW = 408.8;
const axH = 289.6;
const fontFamily = "'Liberation Sans', Arial, Helvetica, sans-serif";

function Panel({ idx }: { idx: number }) {
  const left = colLeft[idx % 2];
  const top = rowTop[Math.floor(idx / 2)];
  const x = d3.scaleLinear().domain([timeStart, timeEnd]).range([left, left + axW]);
  const y = d3.scaleLinear().domain([-40, 40]).range([top + axH, top]);
  const line = d3
    .line<Pt>()
    .x((d) => x(d[0]))
    .y((d) => y(d[1]))
    .curve(d3.curveCatmullRom.alpha(0.5));
  const clipId = `clip-${idx}`;
  const series = panelSeries[idx];
  const tick = 4;
  return (
    <g>
      <defs>
        <clipPath id={clipId}>
          <rect x={left} y={top} width={axW} height={axH} />
        </clipPath>
      </defs>
      <g clipPath={`url(#${clipId})`} fill="none" strokeWidth={1}>
        {series.map((s, i) => (
          <path key={i} d={line(s) || ''} stroke={lineColors[i % lineColors.length]} />
        ))}
      </g>
      <rect x={left} y={top} width={axW} height={axH} fill="none" stroke="#000" strokeWidth={1.1} />
      {xTicks.map((v) => (
        <g key={`xt${v}`}>
          <line x1={x(v)} x2={x(v)} y1={top + axH} y2={top + axH - tick} stroke="#000" />
          <line x1={x(v)} x2={x(v)} y1={top} y2={top + tick} stroke="#000" />
          <text x={x(v) - 2} y={top + axH + 17.7} textAnchor="middle" fontSize={15} fontFamily={fontFamily}>
            {v}
          </text>
        </g>
      ))}
      {yTicks.map((v) => (
        <g key={`yt${v}`}>
          <line x1={left} x2={left + tick} y1={y(v)} y2={y(v)} stroke="#000" />
          <line x1={left + axW} x2={left + axW - tick} y1={y(v)} y2={y(v)} stroke="#000" />
          <text x={left - 5} y={y(v) + 5.3} textAnchor="end" fontSize={15} fontFamily={fontFamily}>
            {v}
          </text>
        </g>
      ))}
      <text x={left + axW / 2} y={top - 12.5} textAnchor="middle" fontSize={20} fontFamily={fontFamily}>
        {panelTitles[idx]}
      </text>
      <text x={left - 86} y={top - 5} fontSize={20} fontFamily={fontFamily}>
        {panelLetters[idx]}
      </text>
      <text
        transform={`translate(${left - 36},${top + axH / 2}) rotate(-90)`}
        textAnchor="middle"
        fontSize={20}
        fontFamily={fontFamily}
      >
        {yAxisLabel}
      </text>
      {idx >= 2 && (
        <text x={left + axW / 2} y={top + axH + 41} textAnchor="middle" fontSize={20} fontFamily={fontFamily}>
          {xAxisLabel}
        </text>
      )}
    </g>
  );
}

export default function App() {
  useEffect(() => {
    document.body.style.margin = '0';
  }, []);
  return (
    <svg
      width={1036}
      height={774}
      style={{ position: 'absolute', left: 0, top: 0, display: 'block', background: '#fff' }}
    >
      <rect x={0} y={0} width={1036} height={774} fill="#fff" />
      {[0, 1, 2, 3].map((i) => (
        <Panel key={i} idx={i} />
      ))}
    </svg>
  );
}
